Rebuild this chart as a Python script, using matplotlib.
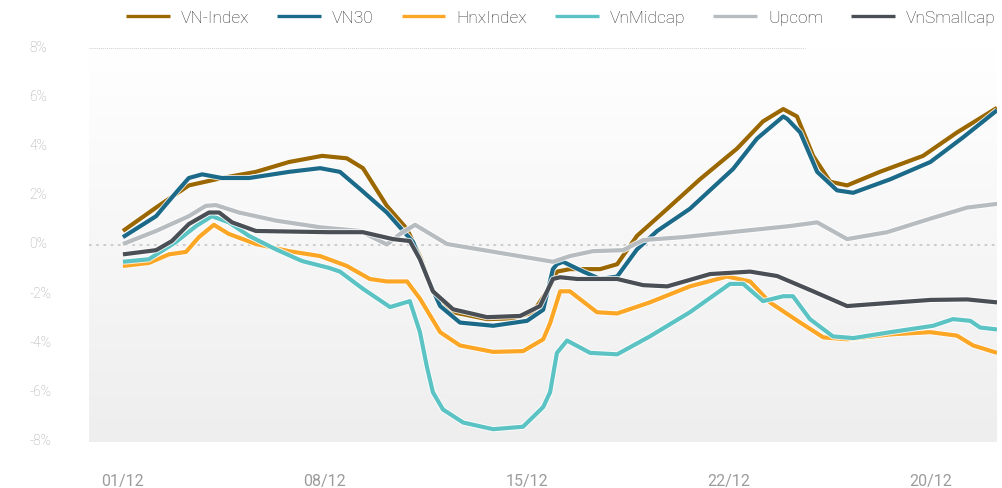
import matplotlib
matplotlib.use("Agg")
import matplotlib.pyplot as plt
import matplotlib.patheffects as pe
import matplotlib.transforms as mtransforms
from matplotlib.colors import LinearSegmentedColormap
import numpy as np

# x positions are trading-day offsets from 01/12
vnindex_x = [0, 0.82, 1.63, 2.45, 3.29, 4.11, 4.93, 5.54, 5.94, 6.53, 7.03, 7.35, 7.67, 8.17,
             9.01, 9.65, 10.15, 10.57, 10.74, 11.06, 11.81, 12.23, 12.72, 13.47, 14.28, 15.20,
             15.84, 16.34, 16.68, 17.08, 17.50, 17.92, 18.73, 19.80, 20.64, 21.63]
vnindex_y = [0.57, 1.52, 2.42, 2.72, 2.97, 3.37, 3.62, 3.52, 3.12, 1.59, 0.65, -0.45, -1.88, -2.73,
             -3.01, -2.98, -2.73, -1.68, -1.08, -0.98, -0.98, -0.78, 0.37, 1.47, 2.67, 3.92,
             5.02, 5.52, 5.22, 3.62, 2.57, 2.42, 2.97, 3.62, 4.57, 5.57]

vn30_x = [0, 0.82, 1.31, 1.63, 1.96, 2.45, 3.12, 4.11, 4.88, 5.37, 5.87, 6.53, 7.18, 7.52,
          7.85, 8.34, 9.16, 10.0, 10.40, 10.64, 10.74, 10.89, 11.39, 11.81, 12.23, 12.72,
          13.22, 14.03, 15.10, 15.69, 16.34, 16.44, 16.76, 17.18, 17.67, 18.07, 18.99, 19.98,
          20.79, 21.63]
vn30_y = [0.32, 1.17, 2.12, 2.72, 2.87, 2.72, 2.72, 2.97, 3.12, 2.97, 2.27, 1.32, 0.12, -1.28,
          -2.48, -3.15, -3.28, -3.08, -2.63, -0.98, -0.78, -0.68, -1.08, -1.38, -1.28, -0.18,
          0.57, 1.47, 3.09, 4.32, 5.22, 5.12, 4.57, 2.97, 2.22, 2.12, 2.67, 3.37,
          4.37, 5.47]

hnx_x = [0, 0.64, 1.14, 1.56, 1.88, 2.25, 2.62, 3.29, 4.11, 4.88, 5.54, 6.11, 6.53, 7.03,
         7.35, 7.85, 8.34, 9.16, 9.90, 10.40, 10.57, 10.82, 11.06, 11.73, 12.23, 13.04, 14.03,
         14.95, 15.52, 16.01, 16.76, 17.33, 17.92, 18.99, 19.98, 20.64, 21.04, 21.63]
hnx_y = [-0.85, -0.73, -0.38, -0.28, 0.32, 0.82, 0.45, 0.04, -0.25, -0.45, -0.85, -1.38, -1.48,
         -1.48, -2.18, -3.54, -4.08, -4.34, -4.31, -3.83, -3.18, -1.88, -1.88, -2.73, -2.78,
         -2.33, -1.68, -1.28, -1.48, -2.33, -3.15, -3.75, -3.83, -3.63, -3.54, -3.68, -4.08, -4.38]

midcap_x = [0, 0.64, 1.31, 1.81, 2.20, 2.62, 3.12, 3.79, 4.43, 5.10, 5.37, 5.94, 6.61, 7.10,
            7.35, 7.52, 7.67, 7.92, 8.42, 9.16, 9.90, 10.40, 10.57, 10.74, 10.99, 11.56, 12.23,
            13.04, 14.03, 15.02, 15.35, 15.84, 16.34, 16.58, 17.00, 17.57, 18.07, 18.99, 20.05,
            20.54, 20.97, 21.21, 21.63]
midcap_y = [-0.68, -0.58, 0.12, 0.77, 1.17, 0.92, 0.37, -0.18, -0.65, -0.93, -1.08, -1.78, -2.52,
            -2.28, -3.54, -4.93, -5.98, -6.68, -7.21, -7.48, -7.38, -6.58, -5.98, -4.38, -3.88,
            -4.38, -4.44, -3.71, -2.73, -1.58, -1.58, -2.28, -2.08, -2.08, -3.01, -3.71, -3.78,
            -3.54, -3.28, -3.01, -3.08, -3.35, -3.43]

upcom_x = [0, 0.82, 1.63, 2.05, 2.30, 2.87, 3.79, 4.88, 5.87, 6.53, 6.86, 7.23, 8.02, 10.64,
           11.06, 11.63, 12.38, 12.87, 13.86, 16.51, 17.18, 17.92, 18.91, 19.98, 20.89, 21.63]
upcom_y = [0.04, 0.57, 1.17, 1.59, 1.62, 1.32, 0.99, 0.72, 0.57, 0.02, 0.45, 0.82, 0.04, -0.68,
           -0.45, -0.25, -0.21, 0.2, 0.32, 0.77, 0.92, 0.24, 0.52, 1.07, 1.52, 1.67]

smallcap_x = [0, 0.82, 1.21, 1.63, 2.13, 2.38, 2.70, 3.29, 5.10, 5.94, 6.68, 7.10, 7.35, 7.67,
              8.17, 9.01, 9.83, 10.32, 10.64, 10.82, 11.24, 12.23, 12.87, 13.47, 14.53, 15.52,
              16.19, 17.08, 17.92, 18.73, 19.98, 20.89, 21.63]
smallcap_y = [-0.38, -0.21, 0.16, 0.85, 1.32, 1.32, 0.92, 0.57, 0.52, 0.52, 0.24, 0.16, -0.58,
              -1.88, -2.61, -2.93, -2.88, -2.48, -1.38, -1.31, -1.38, -1.38, -1.63, -1.68, -1.18,
              -1.08, -1.26, -1.88, -2.48, -2.38, -2.23, -2.21, -2.33]

series_names = ["VN-Index", "VN30", "HnxIndex", "VnMidcap", "Upcom", "VnSmallcap"]
series_colors = ["#9b6700", "#1b6a89", "#fca626", "#5bc3c3", "#b6bcbf", "#4a4e55"]

tick_pos = [0, 5, 10, 15, 20]
tick_labels = ["01/12", "08/12", "15/12", "22/12", "20/12"]
y_ticks = [-8, -6, -4, -2, 0, 2, 4, 6, 8]

fig = plt.figure(figsize=(10.02, 4.89), dpi=100)
ax = fig.add_axes([89 / 1002, 46 / 489, 908 / 1002, 394 / 489])

x_lo, x_hi = -0.84, 21.63
ax.set_xlim(x_lo, x_hi)

# soft vertical gradient behind the plot (white at top, light grey at bottom)
grad = np.linspace(0, 1, 256).reshape(-1, 1)
cmap = LinearSegmentedColormap.from_list("bg", ["#ffffff", "#eeeeee"])
ax.imshow(grad, aspect="auto", cmap=cmap, extent=[x_lo, x_hi, -8, 8], origin="upper", zorder=0)
ax.set_ylim(-8, 8)

# dotted reference lines
ax.axhline(0, color="#c9c9c9", lw=1.3, ls=(0, (1.5, 2.5)), zorder=1)
ax.axhline(8, xmin=0, xmax=(805 - 89) / 908, color="#cfcfcf", lw=0.7, ls=(0, (1, 1)), zorder=1)

all_x = [vnindex_x, vn30_x, hnx_x, midcap_x, upcom_x, smallcap_x]
all_y = [vnindex_y, vn30_y, hnx_y, midcap_y, upcom_y, smallcap_y]
halo = [pe.Stroke(linewidth=4.4, foreground="white", alpha=0.8), pe.Normal()]
for xs, ys, name, col in zip(all_x, all_y, series_names, series_colors):
    ax.plot(xs, ys, color=col, lw=3.0, label=name, solid_joinstyle="round",
            solid_capstyle="butt", path_effects=halo, zorder=3)

for s in ax.spines.values():
    s.set_visible(False)

ax.set_xticks(tick_pos)
ax.set_xticklabels(tick_labels, family=["Roboto", "DejaVu Sans"],
                   fontsize=11.5, color="#9c9c9c")
ax.tick_params(axis="x", length=0, pad=22)

ax.set_yticks(y_ticks)
ax.set_yticklabels([f"{v}%" for v in y_ticks], family=["Roboto", "DejaVu Sans"],
                   fontsize=10, color="#a8a8a8", fontweight="light")
ax.tick_params(axis="y", length=0, pad=43)
shift = mtransforms.ScaledTranslation(0, 3 / 100, fig.dpi_scale_trans)
for lab in ax.get_yticklabels():
    lab.set_horizontalalignment("left")
    lab.set_transform(lab.get_transform() + shift)

leg = fig.legend(loc="center", bbox_to_anchor=(561 / 1002, 1 - 18 / 489), ncol=6, frameon=False,
                 handlelength=2.5, handletextpad=0.65, columnspacing=1.62,
                 prop={"family": ["Roboto", "DejaVu Sans"], "size": 12.5, "weight": "light"})
for t in leg.get_texts():
    t.set_color("#333333")
for h in leg.legend_handles:
    h.set_linewidth(2.4)
    h.set_path_effects([])

fig.savefig("out.png", dpi=100)
